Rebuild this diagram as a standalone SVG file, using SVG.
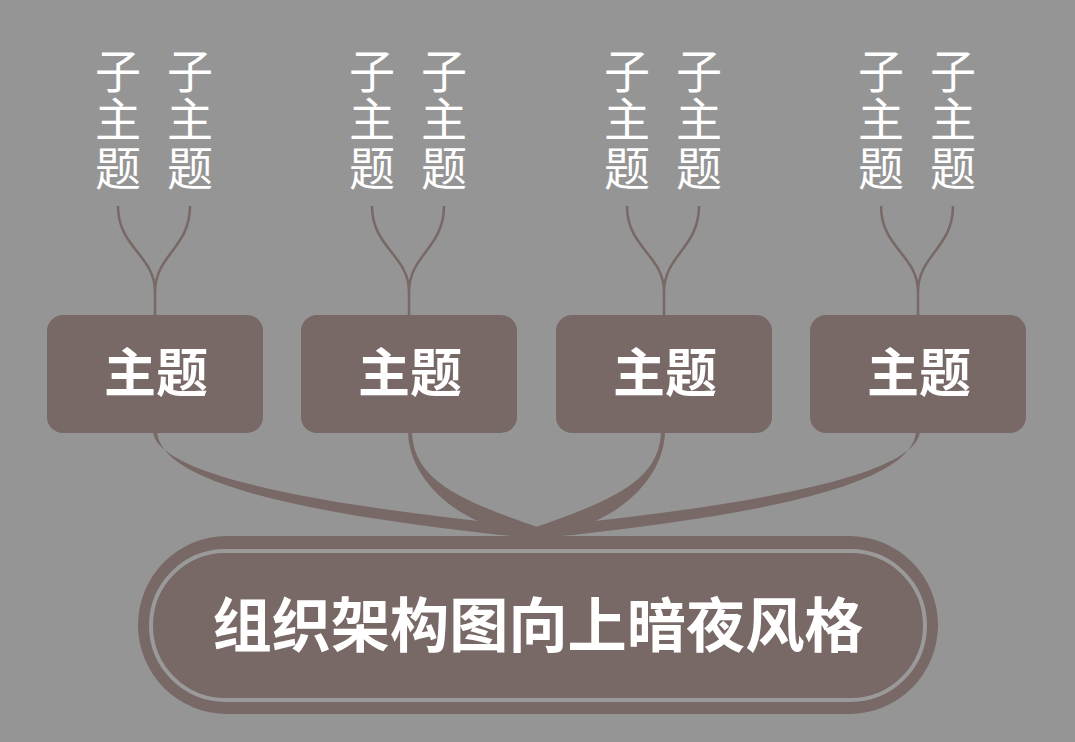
<svg xmlns="http://www.w3.org/2000/svg" width="1075" height="742" viewBox="0 0 1075 742">
<style>
.bg{fill:#959595}
.box{fill:#786866}
.sub{fill:#ffffff;font-family:"Noto Sans CJK SC","Noto Sans CJK JP",sans-serif;font-size:46px;text-anchor:middle}
.topic{fill:#ffffff;font-family:"Noto Sans CJK SC","Noto Sans CJK JP",sans-serif;font-size:52px;font-weight:bold;text-anchor:middle}
.root{fill:#ffffff;font-family:"Noto Sans CJK SC","Noto Sans CJK JP",sans-serif;font-size:59.2px;font-weight:bold;text-anchor:middle}
.thin{fill:none;stroke:#786866;stroke-width:2.5}
.thick{fill:#786866}
</style>
<rect class="bg" x="0" y="0" width="1075" height="742"/>
<g id="connectors">
<path class="thin" d="M118,206 C118,248 155,255 155,292 L155,318 M190,206 C190,248 155,255 155,292"/>
<path class="thin" d="M372,206 C372,248 409,255 409,292 L409,318 M444,206 C444,248 409,255 409,292"/>
<path class="thin" d="M627,206 C627,248 664,255 664,292 L664,318 M699,206 C699,248 664,255 664,292"/>
<path class="thin" d="M881,206 C881,248 918,255 918,292 L918,318 M953,206 C953,248 918,255 918,292"/>
<path class="thick" d="M153,430 C153,480 360,510 537,527 L537,538 L500,535 C350,518 157,490 157,430 Z"/>
<path class="thick" d="M408,430 C408,470 440,505 480,522 L537,537 L537,527 C460,500 412,480 412,430 Z"/>
<path class="thick" d="M665,430 C665,470 633,505 593,522 L536,537 L536,527 C613,500 661,480 661,430 Z"/>
<path class="thick" d="M920,430 C920,480 713,510 536,527 L536,538 L573,535 C723,518 916,490 916,430 Z"/>
</g>
<g id="sub1"><text class="sub" x="118" y="88">子</text><text class="sub" x="118" y="136">主</text><text class="sub" x="118" y="185">题</text></g>
<g id="sub2"><text class="sub" x="190" y="88">子</text><text class="sub" x="190" y="136">主</text><text class="sub" x="190" y="185">题</text></g>
<g id="sub3"><text class="sub" x="372" y="88">子</text><text class="sub" x="372" y="136">主</text><text class="sub" x="372" y="185">题</text></g>
<g id="sub4"><text class="sub" x="444" y="88">子</text><text class="sub" x="444" y="136">主</text><text class="sub" x="444" y="185">题</text></g>
<g id="sub5"><text class="sub" x="627" y="88">子</text><text class="sub" x="627" y="136">主</text><text class="sub" x="627" y="185">题</text></g>
<g id="sub6"><text class="sub" x="699" y="88">子</text><text class="sub" x="699" y="136">主</text><text class="sub" x="699" y="185">题</text></g>
<g id="sub7"><text class="sub" x="881" y="88">子</text><text class="sub" x="881" y="136">主</text><text class="sub" x="881" y="185">题</text></g>
<g id="sub8"><text class="sub" x="953" y="88">子</text><text class="sub" x="953" y="136">主</text><text class="sub" x="953" y="185">题</text></g>
<g id="topic1"><rect class="box" x="47" y="315" width="216" height="118" rx="16"/><text class="topic" x="156" y="392">主题</text></g>
<g id="topic2"><rect class="box" x="301" y="315" width="216" height="118" rx="16"/><text class="topic" x="410" y="392">主题</text></g>
<g id="topic3"><rect class="box" x="556" y="315" width="216" height="118" rx="16"/><text class="topic" x="665" y="392">主题</text></g>
<g id="topic4"><rect class="box" x="810" y="315" width="216" height="118" rx="16"/><text class="topic" x="919" y="392">主题</text></g>
<g id="root">
<rect class="box" x="138" y="536" width="800" height="178" rx="89"/>
<rect x="151" y="551" width="774" height="149" rx="74.5" fill="none" stroke="#9a9a9a" stroke-width="4"/>
<text class="root" x="538" y="647">组织架构图向上暗夜风格</text>
</g>
</svg>
